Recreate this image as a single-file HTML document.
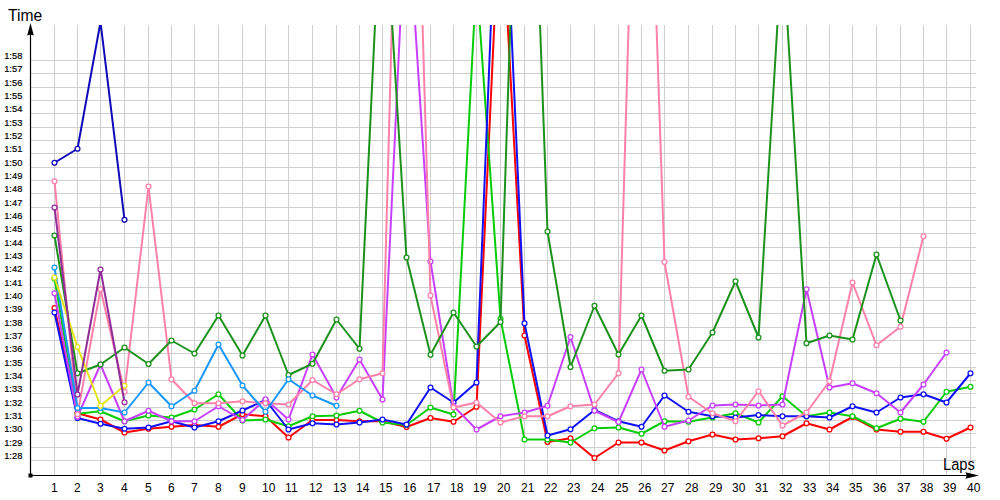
<!DOCTYPE html>
<html><head><meta charset="utf-8"><title>Lap times</title>
<style>
html,body{margin:0;padding:0;background:#fff;}
body{width:1000px;height:500px;overflow:hidden;font-family:"Liberation Sans",sans-serif;}
svg{display:block;}
text{font-family:"Liberation Sans",sans-serif;fill:#000;}
.g{stroke:#cfcfcf;stroke-width:1;shape-rendering:crispEdges;}
.ax{stroke:#000;stroke-width:1.2;}
.yl{font-size:10px;stroke:#000;stroke-width:0.2px;}
.xl{font-size:12px;}
.t{font-size:16.5px;}
.ln{fill:none;stroke-width:2;stroke-linejoin:round;stroke-linecap:round;}
.mk{fill:#fff;stroke-width:1.25;}
</style></head><body>
<svg width="1000" height="500" viewBox="0 0 1000 500">
<defs><clipPath id="cp"><rect x="31" y="25" width="960" height="451"/></clipPath></defs>
<rect width="1000" height="500" fill="#fff"/>

<g class="g">
<line x1="54.5" y1="25" x2="54.5" y2="475"/>
<line x1="77.5" y1="25" x2="77.5" y2="475"/>
<line x1="100.5" y1="25" x2="100.5" y2="475"/>
<line x1="124.5" y1="25" x2="124.5" y2="475"/>
<line x1="148.5" y1="25" x2="148.5" y2="475"/>
<line x1="171.5" y1="25" x2="171.5" y2="475"/>
<line x1="194.5" y1="25" x2="194.5" y2="475"/>
<line x1="218.5" y1="25" x2="218.5" y2="475"/>
<line x1="242.5" y1="25" x2="242.5" y2="475"/>
<line x1="265.5" y1="25" x2="265.5" y2="475"/>
<line x1="288.5" y1="25" x2="288.5" y2="475"/>
<line x1="312.5" y1="25" x2="312.5" y2="475"/>
<line x1="336.5" y1="25" x2="336.5" y2="475"/>
<line x1="359.5" y1="25" x2="359.5" y2="475"/>
<line x1="382.5" y1="25" x2="382.5" y2="475"/>
<line x1="406.5" y1="25" x2="406.5" y2="475"/>
<line x1="430.5" y1="25" x2="430.5" y2="475"/>
<line x1="453.5" y1="25" x2="453.5" y2="475"/>
<line x1="476.5" y1="25" x2="476.5" y2="475"/>
<line x1="500.5" y1="25" x2="500.5" y2="475"/>
<line x1="524.5" y1="25" x2="524.5" y2="475"/>
<line x1="547.5" y1="25" x2="547.5" y2="475"/>
<line x1="570.5" y1="25" x2="570.5" y2="475"/>
<line x1="594.5" y1="25" x2="594.5" y2="475"/>
<line x1="618.5" y1="25" x2="618.5" y2="475"/>
<line x1="641.5" y1="25" x2="641.5" y2="475"/>
<line x1="664.5" y1="25" x2="664.5" y2="475"/>
<line x1="688.5" y1="25" x2="688.5" y2="475"/>
<line x1="712.5" y1="25" x2="712.5" y2="475"/>
<line x1="735.5" y1="25" x2="735.5" y2="475"/>
<line x1="758.5" y1="25" x2="758.5" y2="475"/>
<line x1="782.5" y1="25" x2="782.5" y2="475"/>
<line x1="806.5" y1="25" x2="806.5" y2="475"/>
<line x1="829.5" y1="25" x2="829.5" y2="475"/>
<line x1="852.5" y1="25" x2="852.5" y2="475"/>
<line x1="876.5" y1="25" x2="876.5" y2="475"/>
<line x1="900.5" y1="25" x2="900.5" y2="475"/>
<line x1="923.5" y1="25" x2="923.5" y2="475"/>
<line x1="946.5" y1="25" x2="946.5" y2="475"/>
<line x1="970.5" y1="25" x2="970.5" y2="475"/>
<line x1="31" y1="460.5" x2="976" y2="460.5"/>
<line x1="31" y1="447.5" x2="976" y2="447.5"/>
<line x1="31" y1="433.5" x2="976" y2="433.5"/>
<line x1="31" y1="420.5" x2="976" y2="420.5"/>
<line x1="31" y1="407.5" x2="976" y2="407.5"/>
<line x1="31" y1="393.5" x2="976" y2="393.5"/>
<line x1="31" y1="380.5" x2="976" y2="380.5"/>
<line x1="31" y1="367.5" x2="976" y2="367.5"/>
<line x1="31" y1="353.5" x2="976" y2="353.5"/>
<line x1="31" y1="340.5" x2="976" y2="340.5"/>
<line x1="31" y1="327.5" x2="976" y2="327.5"/>
<line x1="31" y1="313.5" x2="976" y2="313.5"/>
<line x1="31" y1="300.5" x2="976" y2="300.5"/>
<line x1="31" y1="287.5" x2="976" y2="287.5"/>
<line x1="31" y1="273.5" x2="976" y2="273.5"/>
<line x1="31" y1="260.5" x2="976" y2="260.5"/>
<line x1="31" y1="247.5" x2="976" y2="247.5"/>
<line x1="31" y1="233.5" x2="976" y2="233.5"/>
<line x1="31" y1="220.5" x2="976" y2="220.5"/>
<line x1="31" y1="207.5" x2="976" y2="207.5"/>
<line x1="31" y1="193.5" x2="976" y2="193.5"/>
<line x1="31" y1="180.5" x2="976" y2="180.5"/>
<line x1="31" y1="167.5" x2="976" y2="167.5"/>
<line x1="31" y1="153.5" x2="976" y2="153.5"/>
<line x1="31" y1="140.5" x2="976" y2="140.5"/>
<line x1="31" y1="127.5" x2="976" y2="127.5"/>
<line x1="31" y1="113.5" x2="976" y2="113.5"/>
<line x1="31" y1="100.5" x2="976" y2="100.5"/>
<line x1="31" y1="87.5" x2="976" y2="87.5"/>
<line x1="31" y1="73.5" x2="976" y2="73.5"/>
<line x1="31" y1="60.5" x2="976" y2="60.5"/>
</g>
<g clip-path="url(#cp)">
<g stroke="#ff0000"><polyline class="ln" points="54.5,308 77.5,413.25 100.5,419.5 124.5,432.5 148.5,428.75 171.5,426.75 194.5,425 218.5,426.75 242.5,414.25 265.5,416.25 288.5,437.5 312.5,420 336.5,420 359.5,421.25 382.5,421.25 406.5,427 430.5,418 453.5,421.75 476.5,406.75 500.5,-109 524.5,335.5 547.5,442 570.5,438.25 594.5,458 618.5,442.5 641.5,442.5 664.5,450.5 688.5,441.25 712.5,434.5 735.5,439.5 758.5,438.25 782.5,436.25 806.5,423.25 829.5,429.5 852.5,417 876.5,429.5 900.5,431.75 923.5,431.75 946.5,438.75 970.5,427.5"/>
<circle class="mk" cx="54.5" cy="308" r="2.45"/>
<circle class="mk" cx="77.5" cy="413.25" r="2.45"/>
<circle class="mk" cx="100.5" cy="419.5" r="2.45"/>
<circle class="mk" cx="124.5" cy="432.5" r="2.45"/>
<circle class="mk" cx="148.5" cy="428.75" r="2.45"/>
<circle class="mk" cx="171.5" cy="426.75" r="2.45"/>
<circle class="mk" cx="194.5" cy="425" r="2.45"/>
<circle class="mk" cx="218.5" cy="426.75" r="2.45"/>
<circle class="mk" cx="242.5" cy="414.25" r="2.45"/>
<circle class="mk" cx="265.5" cy="416.25" r="2.45"/>
<circle class="mk" cx="288.5" cy="437.5" r="2.45"/>
<circle class="mk" cx="312.5" cy="420" r="2.45"/>
<circle class="mk" cx="336.5" cy="420" r="2.45"/>
<circle class="mk" cx="359.5" cy="421.25" r="2.45"/>
<circle class="mk" cx="382.5" cy="421.25" r="2.45"/>
<circle class="mk" cx="406.5" cy="427" r="2.45"/>
<circle class="mk" cx="430.5" cy="418" r="2.45"/>
<circle class="mk" cx="453.5" cy="421.75" r="2.45"/>
<circle class="mk" cx="476.5" cy="406.75" r="2.45"/>
<circle class="mk" cx="524.5" cy="335.5" r="2.45"/>
<circle class="mk" cx="547.5" cy="442" r="2.45"/>
<circle class="mk" cx="570.5" cy="438.25" r="2.45"/>
<circle class="mk" cx="594.5" cy="458" r="2.45"/>
<circle class="mk" cx="618.5" cy="442.5" r="2.45"/>
<circle class="mk" cx="641.5" cy="442.5" r="2.45"/>
<circle class="mk" cx="664.5" cy="450.5" r="2.45"/>
<circle class="mk" cx="688.5" cy="441.25" r="2.45"/>
<circle class="mk" cx="712.5" cy="434.5" r="2.45"/>
<circle class="mk" cx="735.5" cy="439.5" r="2.45"/>
<circle class="mk" cx="758.5" cy="438.25" r="2.45"/>
<circle class="mk" cx="782.5" cy="436.25" r="2.45"/>
<circle class="mk" cx="806.5" cy="423.25" r="2.45"/>
<circle class="mk" cx="829.5" cy="429.5" r="2.45"/>
<circle class="mk" cx="852.5" cy="417" r="2.45"/>
<circle class="mk" cx="876.5" cy="429.5" r="2.45"/>
<circle class="mk" cx="900.5" cy="431.75" r="2.45"/>
<circle class="mk" cx="923.5" cy="431.75" r="2.45"/>
<circle class="mk" cx="946.5" cy="438.75" r="2.45"/>
<circle class="mk" cx="970.5" cy="427.5" r="2.45"/>
</g>
<g stroke="#08cc08"><polyline class="ln" points="54.5,278.5 77.5,413.75 100.5,411.25 124.5,421.25 148.5,415.5 171.5,417.5 194.5,409.5 218.5,394.25 242.5,420.5 265.5,419.5 288.5,426.25 312.5,416.25 336.5,415.5 359.5,410.75 382.5,422.5 406.5,425 430.5,407.5 453.5,414.5 476.5,-22 500.5,318.75 524.5,439.5 547.5,439.5 570.5,442.5 594.5,428.25 618.5,427.5 641.5,433.75 664.5,421.25 688.5,421.75 712.5,417.5 735.5,413.25 758.5,422.5 782.5,396.25 806.5,416.25 829.5,412.5 852.5,416.25 876.5,428.25 900.5,418.75 923.5,421.75 946.5,391.75 970.5,386.75"/>
<circle class="mk" cx="54.5" cy="278.5" r="2.45"/>
<circle class="mk" cx="77.5" cy="413.75" r="2.45"/>
<circle class="mk" cx="100.5" cy="411.25" r="2.45"/>
<circle class="mk" cx="124.5" cy="421.25" r="2.45"/>
<circle class="mk" cx="148.5" cy="415.5" r="2.45"/>
<circle class="mk" cx="171.5" cy="417.5" r="2.45"/>
<circle class="mk" cx="194.5" cy="409.5" r="2.45"/>
<circle class="mk" cx="218.5" cy="394.25" r="2.45"/>
<circle class="mk" cx="242.5" cy="420.5" r="2.45"/>
<circle class="mk" cx="265.5" cy="419.5" r="2.45"/>
<circle class="mk" cx="288.5" cy="426.25" r="2.45"/>
<circle class="mk" cx="312.5" cy="416.25" r="2.45"/>
<circle class="mk" cx="336.5" cy="415.5" r="2.45"/>
<circle class="mk" cx="359.5" cy="410.75" r="2.45"/>
<circle class="mk" cx="382.5" cy="422.5" r="2.45"/>
<circle class="mk" cx="406.5" cy="425" r="2.45"/>
<circle class="mk" cx="430.5" cy="407.5" r="2.45"/>
<circle class="mk" cx="453.5" cy="414.5" r="2.45"/>
<circle class="mk" cx="500.5" cy="318.75" r="2.45"/>
<circle class="mk" cx="524.5" cy="439.5" r="2.45"/>
<circle class="mk" cx="547.5" cy="439.5" r="2.45"/>
<circle class="mk" cx="570.5" cy="442.5" r="2.45"/>
<circle class="mk" cx="594.5" cy="428.25" r="2.45"/>
<circle class="mk" cx="618.5" cy="427.5" r="2.45"/>
<circle class="mk" cx="641.5" cy="433.75" r="2.45"/>
<circle class="mk" cx="664.5" cy="421.25" r="2.45"/>
<circle class="mk" cx="688.5" cy="421.75" r="2.45"/>
<circle class="mk" cx="712.5" cy="417.5" r="2.45"/>
<circle class="mk" cx="735.5" cy="413.25" r="2.45"/>
<circle class="mk" cx="758.5" cy="422.5" r="2.45"/>
<circle class="mk" cx="782.5" cy="396.25" r="2.45"/>
<circle class="mk" cx="806.5" cy="416.25" r="2.45"/>
<circle class="mk" cx="829.5" cy="412.5" r="2.45"/>
<circle class="mk" cx="852.5" cy="416.25" r="2.45"/>
<circle class="mk" cx="876.5" cy="428.25" r="2.45"/>
<circle class="mk" cx="900.5" cy="418.75" r="2.45"/>
<circle class="mk" cx="923.5" cy="421.75" r="2.45"/>
<circle class="mk" cx="946.5" cy="391.75" r="2.45"/>
<circle class="mk" cx="970.5" cy="386.75" r="2.45"/>
</g>
<g stroke="#1010f8"><polyline class="ln" points="54.5,312.5 77.5,418 100.5,423.75 124.5,428.75 148.5,427.5 171.5,421.25 194.5,427.5 218.5,421.25 242.5,410.5 265.5,400 288.5,429.5 312.5,423.25 336.5,424.5 359.5,422.5 382.5,419.5 406.5,424.5 430.5,387.5 453.5,402.5 476.5,382.5 500.5,-214 524.5,323.25 547.5,435.5 570.5,429.25 594.5,410 618.5,421.25 641.5,426.75 664.5,395.5 688.5,411.75 712.5,416.25 735.5,417.5 758.5,415 782.5,416.25 806.5,416.25 829.5,417.5 852.5,406.25 876.5,412.5 900.5,397.5 923.5,394.25 946.5,402.5 970.5,373.25"/>
<circle class="mk" cx="54.5" cy="312.5" r="2.45"/>
<circle class="mk" cx="77.5" cy="418" r="2.45"/>
<circle class="mk" cx="100.5" cy="423.75" r="2.45"/>
<circle class="mk" cx="124.5" cy="428.75" r="2.45"/>
<circle class="mk" cx="148.5" cy="427.5" r="2.45"/>
<circle class="mk" cx="171.5" cy="421.25" r="2.45"/>
<circle class="mk" cx="194.5" cy="427.5" r="2.45"/>
<circle class="mk" cx="218.5" cy="421.25" r="2.45"/>
<circle class="mk" cx="242.5" cy="410.5" r="2.45"/>
<circle class="mk" cx="265.5" cy="400" r="2.45"/>
<circle class="mk" cx="288.5" cy="429.5" r="2.45"/>
<circle class="mk" cx="312.5" cy="423.25" r="2.45"/>
<circle class="mk" cx="336.5" cy="424.5" r="2.45"/>
<circle class="mk" cx="359.5" cy="422.5" r="2.45"/>
<circle class="mk" cx="382.5" cy="419.5" r="2.45"/>
<circle class="mk" cx="406.5" cy="424.5" r="2.45"/>
<circle class="mk" cx="430.5" cy="387.5" r="2.45"/>
<circle class="mk" cx="453.5" cy="402.5" r="2.45"/>
<circle class="mk" cx="476.5" cy="382.5" r="2.45"/>
<circle class="mk" cx="524.5" cy="323.25" r="2.45"/>
<circle class="mk" cx="547.5" cy="435.5" r="2.45"/>
<circle class="mk" cx="570.5" cy="429.25" r="2.45"/>
<circle class="mk" cx="594.5" cy="410" r="2.45"/>
<circle class="mk" cx="618.5" cy="421.25" r="2.45"/>
<circle class="mk" cx="641.5" cy="426.75" r="2.45"/>
<circle class="mk" cx="664.5" cy="395.5" r="2.45"/>
<circle class="mk" cx="688.5" cy="411.75" r="2.45"/>
<circle class="mk" cx="712.5" cy="416.25" r="2.45"/>
<circle class="mk" cx="735.5" cy="417.5" r="2.45"/>
<circle class="mk" cx="758.5" cy="415" r="2.45"/>
<circle class="mk" cx="782.5" cy="416.25" r="2.45"/>
<circle class="mk" cx="806.5" cy="416.25" r="2.45"/>
<circle class="mk" cx="829.5" cy="417.5" r="2.45"/>
<circle class="mk" cx="852.5" cy="406.25" r="2.45"/>
<circle class="mk" cx="876.5" cy="412.5" r="2.45"/>
<circle class="mk" cx="900.5" cy="397.5" r="2.45"/>
<circle class="mk" cx="923.5" cy="394.25" r="2.45"/>
<circle class="mk" cx="946.5" cy="402.5" r="2.45"/>
<circle class="mk" cx="970.5" cy="373.25" r="2.45"/>
</g>
<g stroke="#c840ff"><polyline class="ln" points="54.5,293.25 77.5,416.75 100.5,364.5 124.5,421.25 148.5,410.75 171.5,421.25 194.5,421.25 218.5,406.25 242.5,420 265.5,399.25 288.5,419.5 312.5,354.5 336.5,397.5 359.5,359.5 382.5,399.5 406.5,-108.6 430.5,261.5 453.5,406 476.5,429.5 500.5,416.25 524.5,412.5 547.5,405.75 570.5,337 594.5,410.75 618.5,422 641.5,369.5 664.5,426.75 688.5,420.5 712.5,405.5 735.5,404.5 758.5,405.5 782.5,404.5 806.5,289.25 829.5,387.5 852.5,383.25 876.5,393.25 900.5,412.5 923.5,384.5 946.5,352.5"/>
<circle class="mk" cx="54.5" cy="293.25" r="2.45"/>
<circle class="mk" cx="77.5" cy="416.75" r="2.45"/>
<circle class="mk" cx="100.5" cy="364.5" r="2.45"/>
<circle class="mk" cx="124.5" cy="421.25" r="2.45"/>
<circle class="mk" cx="148.5" cy="410.75" r="2.45"/>
<circle class="mk" cx="171.5" cy="421.25" r="2.45"/>
<circle class="mk" cx="194.5" cy="421.25" r="2.45"/>
<circle class="mk" cx="218.5" cy="406.25" r="2.45"/>
<circle class="mk" cx="242.5" cy="420" r="2.45"/>
<circle class="mk" cx="265.5" cy="399.25" r="2.45"/>
<circle class="mk" cx="288.5" cy="419.5" r="2.45"/>
<circle class="mk" cx="312.5" cy="354.5" r="2.45"/>
<circle class="mk" cx="336.5" cy="397.5" r="2.45"/>
<circle class="mk" cx="359.5" cy="359.5" r="2.45"/>
<circle class="mk" cx="382.5" cy="399.5" r="2.45"/>
<circle class="mk" cx="430.5" cy="261.5" r="2.45"/>
<circle class="mk" cx="453.5" cy="406" r="2.45"/>
<circle class="mk" cx="476.5" cy="429.5" r="2.45"/>
<circle class="mk" cx="500.5" cy="416.25" r="2.45"/>
<circle class="mk" cx="524.5" cy="412.5" r="2.45"/>
<circle class="mk" cx="547.5" cy="405.75" r="2.45"/>
<circle class="mk" cx="570.5" cy="337" r="2.45"/>
<circle class="mk" cx="594.5" cy="410.75" r="2.45"/>
<circle class="mk" cx="618.5" cy="422" r="2.45"/>
<circle class="mk" cx="641.5" cy="369.5" r="2.45"/>
<circle class="mk" cx="664.5" cy="426.75" r="2.45"/>
<circle class="mk" cx="688.5" cy="420.5" r="2.45"/>
<circle class="mk" cx="712.5" cy="405.5" r="2.45"/>
<circle class="mk" cx="735.5" cy="404.5" r="2.45"/>
<circle class="mk" cx="758.5" cy="405.5" r="2.45"/>
<circle class="mk" cx="782.5" cy="404.5" r="2.45"/>
<circle class="mk" cx="806.5" cy="289.25" r="2.45"/>
<circle class="mk" cx="829.5" cy="387.5" r="2.45"/>
<circle class="mk" cx="852.5" cy="383.25" r="2.45"/>
<circle class="mk" cx="876.5" cy="393.25" r="2.45"/>
<circle class="mk" cx="900.5" cy="412.5" r="2.45"/>
<circle class="mk" cx="923.5" cy="384.5" r="2.45"/>
<circle class="mk" cx="946.5" cy="352.5" r="2.45"/>
</g>
<g stroke="#ff80a8"><polyline class="ln" points="54.5,181.25 77.5,414.25 100.5,289.25 124.5,391.75 148.5,186.5 171.5,379.25 194.5,403.25 218.5,403.25 242.5,401.25 265.5,403.25 288.5,404.5 312.5,380 336.5,394.25 359.5,379.25 382.5,373.25 406.5,-522 430.5,295.5 453.5,407.5 476.5,402.5 500.5,422.5 524.5,416.25 547.5,416.25 570.5,406.25 594.5,404.5 618.5,373.25 641.5,-420 664.5,262 688.5,396.75 712.5,413.25 735.5,421.25 758.5,391.25 782.5,425.5 806.5,412.5 829.5,381.25 852.5,282.5 876.5,345.25 900.5,326.75 923.5,236.25"/>
<circle class="mk" cx="54.5" cy="181.25" r="2.45"/>
<circle class="mk" cx="77.5" cy="414.25" r="2.45"/>
<circle class="mk" cx="100.5" cy="289.25" r="2.45"/>
<circle class="mk" cx="124.5" cy="391.75" r="2.45"/>
<circle class="mk" cx="148.5" cy="186.5" r="2.45"/>
<circle class="mk" cx="171.5" cy="379.25" r="2.45"/>
<circle class="mk" cx="194.5" cy="403.25" r="2.45"/>
<circle class="mk" cx="218.5" cy="403.25" r="2.45"/>
<circle class="mk" cx="242.5" cy="401.25" r="2.45"/>
<circle class="mk" cx="265.5" cy="403.25" r="2.45"/>
<circle class="mk" cx="288.5" cy="404.5" r="2.45"/>
<circle class="mk" cx="312.5" cy="380" r="2.45"/>
<circle class="mk" cx="336.5" cy="394.25" r="2.45"/>
<circle class="mk" cx="359.5" cy="379.25" r="2.45"/>
<circle class="mk" cx="382.5" cy="373.25" r="2.45"/>
<circle class="mk" cx="430.5" cy="295.5" r="2.45"/>
<circle class="mk" cx="453.5" cy="407.5" r="2.45"/>
<circle class="mk" cx="476.5" cy="402.5" r="2.45"/>
<circle class="mk" cx="500.5" cy="422.5" r="2.45"/>
<circle class="mk" cx="524.5" cy="416.25" r="2.45"/>
<circle class="mk" cx="547.5" cy="416.25" r="2.45"/>
<circle class="mk" cx="570.5" cy="406.25" r="2.45"/>
<circle class="mk" cx="594.5" cy="404.5" r="2.45"/>
<circle class="mk" cx="618.5" cy="373.25" r="2.45"/>
<circle class="mk" cx="664.5" cy="262" r="2.45"/>
<circle class="mk" cx="688.5" cy="396.75" r="2.45"/>
<circle class="mk" cx="712.5" cy="413.25" r="2.45"/>
<circle class="mk" cx="735.5" cy="421.25" r="2.45"/>
<circle class="mk" cx="758.5" cy="391.25" r="2.45"/>
<circle class="mk" cx="782.5" cy="425.5" r="2.45"/>
<circle class="mk" cx="806.5" cy="412.5" r="2.45"/>
<circle class="mk" cx="829.5" cy="381.25" r="2.45"/>
<circle class="mk" cx="852.5" cy="282.5" r="2.45"/>
<circle class="mk" cx="876.5" cy="345.25" r="2.45"/>
<circle class="mk" cx="900.5" cy="326.75" r="2.45"/>
<circle class="mk" cx="923.5" cy="236.25" r="2.45"/>
</g>
<g stroke="#1c921c"><polyline class="ln" points="54.5,235.5 77.5,373.25 100.5,364.5 124.5,347.5 148.5,364 171.5,340.5 194.5,353.5 218.5,315.5 242.5,355.5 265.5,315.5 288.5,375 312.5,363.75 336.5,319.5 359.5,348.75 382.5,-132 406.5,257.5 430.5,354.75 453.5,312.5 476.5,346.5 500.5,322 524.5,-407 547.5,231.5 570.5,367 594.5,305.75 618.5,354.5 641.5,315.5 664.5,370.75 688.5,369.5 712.5,332.5 735.5,281.25 758.5,337.5 782.5,-59 806.5,343.25 829.5,335.5 852.5,339.5 876.5,254.5 900.5,320.5"/>
<circle class="mk" cx="54.5" cy="235.5" r="2.45"/>
<circle class="mk" cx="77.5" cy="373.25" r="2.45"/>
<circle class="mk" cx="100.5" cy="364.5" r="2.45"/>
<circle class="mk" cx="124.5" cy="347.5" r="2.45"/>
<circle class="mk" cx="148.5" cy="364" r="2.45"/>
<circle class="mk" cx="171.5" cy="340.5" r="2.45"/>
<circle class="mk" cx="194.5" cy="353.5" r="2.45"/>
<circle class="mk" cx="218.5" cy="315.5" r="2.45"/>
<circle class="mk" cx="242.5" cy="355.5" r="2.45"/>
<circle class="mk" cx="265.5" cy="315.5" r="2.45"/>
<circle class="mk" cx="288.5" cy="375" r="2.45"/>
<circle class="mk" cx="312.5" cy="363.75" r="2.45"/>
<circle class="mk" cx="336.5" cy="319.5" r="2.45"/>
<circle class="mk" cx="359.5" cy="348.75" r="2.45"/>
<circle class="mk" cx="406.5" cy="257.5" r="2.45"/>
<circle class="mk" cx="430.5" cy="354.75" r="2.45"/>
<circle class="mk" cx="453.5" cy="312.5" r="2.45"/>
<circle class="mk" cx="476.5" cy="346.5" r="2.45"/>
<circle class="mk" cx="500.5" cy="322" r="2.45"/>
<circle class="mk" cx="547.5" cy="231.5" r="2.45"/>
<circle class="mk" cx="570.5" cy="367" r="2.45"/>
<circle class="mk" cx="594.5" cy="305.75" r="2.45"/>
<circle class="mk" cx="618.5" cy="354.5" r="2.45"/>
<circle class="mk" cx="641.5" cy="315.5" r="2.45"/>
<circle class="mk" cx="664.5" cy="370.75" r="2.45"/>
<circle class="mk" cx="688.5" cy="369.5" r="2.45"/>
<circle class="mk" cx="712.5" cy="332.5" r="2.45"/>
<circle class="mk" cx="735.5" cy="281.25" r="2.45"/>
<circle class="mk" cx="758.5" cy="337.5" r="2.45"/>
<circle class="mk" cx="806.5" cy="343.25" r="2.45"/>
<circle class="mk" cx="829.5" cy="335.5" r="2.45"/>
<circle class="mk" cx="852.5" cy="339.5" r="2.45"/>
<circle class="mk" cx="876.5" cy="254.5" r="2.45"/>
<circle class="mk" cx="900.5" cy="320.5" r="2.45"/>
</g>
<g stroke="#1898ff"><polyline class="ln" points="54.5,267.5 77.5,408 100.5,408 124.5,412.5 148.5,382.5 171.5,406.25 194.5,390.75 218.5,344.5 242.5,385.5 265.5,411.75 288.5,379.25 312.5,395.5 336.5,405.75"/>
<circle class="mk" cx="54.5" cy="267.5" r="2.45"/>
<circle class="mk" cx="77.5" cy="408" r="2.45"/>
<circle class="mk" cx="100.5" cy="408" r="2.45"/>
<circle class="mk" cx="124.5" cy="412.5" r="2.45"/>
<circle class="mk" cx="148.5" cy="382.5" r="2.45"/>
<circle class="mk" cx="171.5" cy="406.25" r="2.45"/>
<circle class="mk" cx="194.5" cy="390.75" r="2.45"/>
<circle class="mk" cx="218.5" cy="344.5" r="2.45"/>
<circle class="mk" cx="242.5" cy="385.5" r="2.45"/>
<circle class="mk" cx="265.5" cy="411.75" r="2.45"/>
<circle class="mk" cx="288.5" cy="379.25" r="2.45"/>
<circle class="mk" cx="312.5" cy="395.5" r="2.45"/>
<circle class="mk" cx="336.5" cy="405.75" r="2.45"/>
</g>
<g stroke="#e4e414"><polyline class="ln" points="54.5,277.5 77.5,347 100.5,405.75 124.5,385.75"/>
<circle class="mk" cx="54.5" cy="277.5" r="2.45"/>
<circle class="mk" cx="77.5" cy="347" r="2.45"/>
<circle class="mk" cx="100.5" cy="405.75" r="2.45"/>
<circle class="mk" cx="124.5" cy="385.75" r="2.45"/>
</g>
<g stroke="#902c98"><polyline class="ln" points="54.5,207.5 77.5,394.5 100.5,269.5 124.5,402.25"/>
<circle class="mk" cx="54.5" cy="207.5" r="2.45"/>
<circle class="mk" cx="77.5" cy="394.5" r="2.45"/>
<circle class="mk" cx="100.5" cy="269.5" r="2.45"/>
<circle class="mk" cx="124.5" cy="402.25" r="2.45"/>
</g>
<g stroke="#1008b8"><polyline class="ln" points="54.5,162.75 77.5,148.75 100.5,22 124.5,219.75"/>
<circle class="mk" cx="54.5" cy="162.75" r="2.45"/>
<circle class="mk" cx="77.5" cy="148.75" r="2.45"/>
<circle class="mk" cx="124.5" cy="219.75" r="2.45"/>
</g>
</g>
<line class="ax" x1="30.5" y1="475.8" x2="30.5" y2="30"/>
<line class="ax" x1="30" y1="475.5" x2="970" y2="475.5"/>
<rect x="28.5" y="473.5" width="4" height="4" fill="#000"/>
<path d="M30.5 23 L33.8 35.6 L30.5 34.4 L27.2 35.6 Z" fill="#000"/>
<path d="M979 475.5 L965.3 478.8 L966.8 475.5 L965.3 472.2 Z" fill="#000"/>
<text class="t" transform="translate(8 21) scale(0.95 1)">Time</text>
<text class="t" transform="translate(943 469.5) scale(0.89 1)">Laps</text>
<text class="yl" transform="translate(4.2 458.9) scale(0.93 0.92)">1:28</text>
<text class="yl" transform="translate(4.2 445.9) scale(0.93 0.92)">1:29</text>
<text class="yl" transform="translate(4.2 431.9) scale(0.93 0.92)">1:30</text>
<text class="yl" transform="translate(4.2 418.9) scale(0.93 0.92)">1:31</text>
<text class="yl" transform="translate(4.2 405.9) scale(0.93 0.92)">1:32</text>
<text class="yl" transform="translate(4.2 391.9) scale(0.93 0.92)">1:33</text>
<text class="yl" transform="translate(4.2 378.9) scale(0.93 0.92)">1:34</text>
<text class="yl" transform="translate(4.2 365.9) scale(0.93 0.92)">1:35</text>
<text class="yl" transform="translate(4.2 351.9) scale(0.93 0.92)">1:36</text>
<text class="yl" transform="translate(4.2 338.9) scale(0.93 0.92)">1:37</text>
<text class="yl" transform="translate(4.2 325.9) scale(0.93 0.92)">1:38</text>
<text class="yl" transform="translate(4.2 311.9) scale(0.93 0.92)">1:39</text>
<text class="yl" transform="translate(4.2 298.9) scale(0.93 0.92)">1:40</text>
<text class="yl" transform="translate(4.2 285.9) scale(0.93 0.92)">1:41</text>
<text class="yl" transform="translate(4.2 271.9) scale(0.93 0.92)">1:42</text>
<text class="yl" transform="translate(4.2 258.9) scale(0.93 0.92)">1:43</text>
<text class="yl" transform="translate(4.2 245.9) scale(0.93 0.92)">1:44</text>
<text class="yl" transform="translate(4.2 231.9) scale(0.93 0.92)">1:45</text>
<text class="yl" transform="translate(4.2 218.9) scale(0.93 0.92)">1:46</text>
<text class="yl" transform="translate(4.2 205.9) scale(0.93 0.92)">1:47</text>
<text class="yl" transform="translate(4.2 191.9) scale(0.93 0.92)">1:48</text>
<text class="yl" transform="translate(4.2 178.9) scale(0.93 0.92)">1:49</text>
<text class="yl" transform="translate(4.2 165.9) scale(0.93 0.92)">1:50</text>
<text class="yl" transform="translate(4.2 151.9) scale(0.93 0.92)">1:51</text>
<text class="yl" transform="translate(4.2 138.9) scale(0.93 0.92)">1:52</text>
<text class="yl" transform="translate(4.2 125.9) scale(0.93 0.92)">1:53</text>
<text class="yl" transform="translate(4.2 111.9) scale(0.93 0.92)">1:54</text>
<text class="yl" transform="translate(4.2 98.9) scale(0.93 0.92)">1:55</text>
<text class="yl" transform="translate(4.2 85.9) scale(0.93 0.92)">1:56</text>
<text class="yl" transform="translate(4.2 71.9) scale(0.93 0.92)">1:57</text>
<text class="yl" transform="translate(4.2 58.9) scale(0.93 0.92)">1:58</text>
<text class="xl" x="51.1" y="491.8">1</text>
<text class="xl" x="74.1" y="491.8">2</text>
<text class="xl" x="97.1" y="491.8">3</text>
<text class="xl" x="121.1" y="491.8">4</text>
<text class="xl" x="145.1" y="491.8">5</text>
<text class="xl" x="168.1" y="491.8">6</text>
<text class="xl" x="191.1" y="491.8">7</text>
<text class="xl" x="215.1" y="491.8">8</text>
<text class="xl" x="239.1" y="491.8">9</text>
<text class="xl" x="262.1" y="491.8">10</text>
<text class="xl" x="285.1" y="491.8">11</text>
<text class="xl" x="309.1" y="491.8">12</text>
<text class="xl" x="333.1" y="491.8">13</text>
<text class="xl" x="356.1" y="491.8">14</text>
<text class="xl" x="379.1" y="491.8">15</text>
<text class="xl" x="403.1" y="491.8">16</text>
<text class="xl" x="427.1" y="491.8">17</text>
<text class="xl" x="450.1" y="491.8">18</text>
<text class="xl" x="473.1" y="491.8">19</text>
<text class="xl" x="497.1" y="491.8">20</text>
<text class="xl" x="521.1" y="491.8">21</text>
<text class="xl" x="544.1" y="491.8">22</text>
<text class="xl" x="567.1" y="491.8">23</text>
<text class="xl" x="591.1" y="491.8">24</text>
<text class="xl" x="615.1" y="491.8">25</text>
<text class="xl" x="638.1" y="491.8">26</text>
<text class="xl" x="661.1" y="491.8">27</text>
<text class="xl" x="685.1" y="491.8">28</text>
<text class="xl" x="709.1" y="491.8">29</text>
<text class="xl" x="732.1" y="491.8">30</text>
<text class="xl" x="755.1" y="491.8">31</text>
<text class="xl" x="779.1" y="491.8">32</text>
<text class="xl" x="803.1" y="491.8">33</text>
<text class="xl" x="826.1" y="491.8">34</text>
<text class="xl" x="849.1" y="491.8">35</text>
<text class="xl" x="873.1" y="491.8">36</text>
<text class="xl" x="897.1" y="491.8">37</text>
<text class="xl" x="920.1" y="491.8">38</text>
<text class="xl" x="943.1" y="491.8">39</text>
<text class="xl" x="967.1" y="491.8">40</text>
</svg></body></html>
